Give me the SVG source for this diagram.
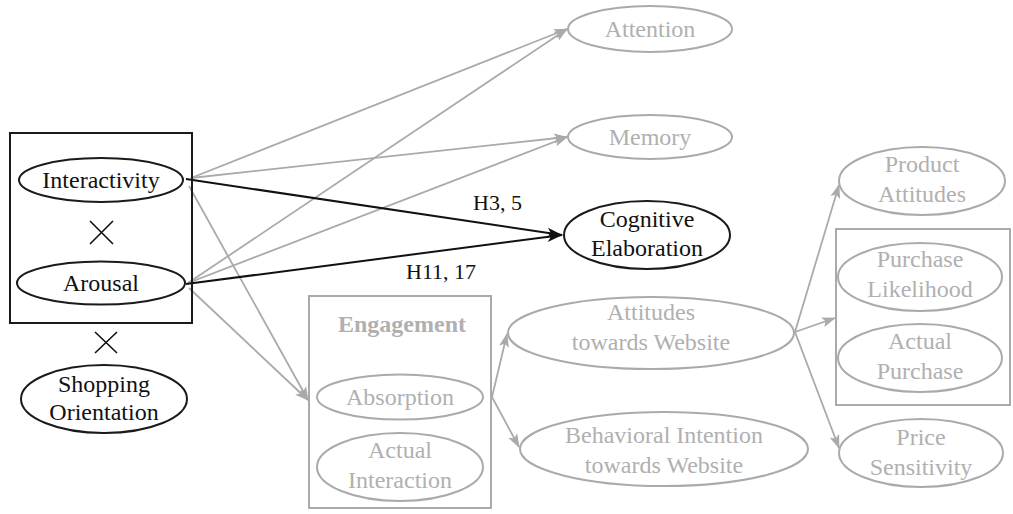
<svg xmlns="http://www.w3.org/2000/svg" width="1013" height="514" viewBox="0 0 1013 514" font-family="Liberation Serif, serif">
<defs>
<style>
text{font-size:24px;text-anchor:middle}
.k{fill:#111}
.g{fill:#b0b0b0}
.ek{fill:none;stroke:#1a1a1a;stroke-width:2}
.eg{fill:none;stroke:#aaaaaa;stroke-width:2}
.ck{stroke:#111;stroke-width:2;fill:none}
.cg{stroke:#aaaaaa;stroke-width:1.8;fill:none}
.lbl{font-size:22px;text-anchor:start}
</style>
<marker id="ag" markerUnits="userSpaceOnUse" markerWidth="14" markerHeight="12" refX="13" refY="5" orient="auto" viewBox="0 0 14 10">
<path d="M0,0 L14,5 L0,10 L3,5 z" fill="#aaaaaa"/>
</marker>
<marker id="ak" markerUnits="userSpaceOnUse" markerWidth="16" markerHeight="12" refX="15" refY="5" orient="auto" viewBox="0 0 16 10">
<path d="M0,0 L16,5 L0,10 L4,5 z" fill="#111"/>
</marker>
</defs>
<rect width="1013" height="514" fill="#fff"/>

<g id="connectors">
<line class="cg" x1="191" y1="178" x2="567" y2="29" marker-end="url(#ag)"/>
<line class="cg" x1="191" y1="178" x2="567" y2="137" marker-end="url(#ag)"/>
<line class="cg" x1="189" y1="186" x2="308" y2="400" marker-end="url(#ag)"/>
<line class="cg" x1="188" y1="283" x2="567" y2="29" marker-end="url(#ag)"/>
<line class="cg" x1="188" y1="283" x2="567" y2="137" marker-end="url(#ag)"/>
<line class="cg" x1="189" y1="288" x2="308" y2="400" marker-end="url(#ag)"/>
<line class="ck" x1="186" y1="179" x2="562" y2="235" marker-end="url(#ak)"/>
<line class="ck" x1="186" y1="284" x2="562" y2="235" marker-end="url(#ak)"/>
<line class="cg" x1="492" y1="397" x2="507" y2="334" marker-end="url(#ag)"/>
<line class="cg" x1="492" y1="397" x2="519" y2="447" marker-end="url(#ag)"/>
<line class="cg" x1="795" y1="332" x2="839" y2="185" marker-end="url(#ag)"/>
<line class="cg" x1="795" y1="332" x2="835" y2="318" marker-end="url(#ag)"/>
<line class="cg" x1="795" y1="332" x2="839" y2="448" marker-end="url(#ag)"/>
<text class="k lbl" x="473" y="210">H3, 5</text>
<text class="k lbl" x="406" y="279">H11, 17</text>
</g>

<g id="interaction-box">
<rect x="10" y="133" width="182" height="190" fill="none" stroke="#1a1a1a" stroke-width="2"/>
<path d="M90,221 L113,244 M113,221 L90,244" stroke="#111" stroke-width="1.6"/>
</g>
<g id="interactivity">
<ellipse class="ek" cx="101" cy="180" rx="82" ry="22"/>
<text class="k" x="101" y="188">Interactivity</text>
</g>
<g id="arousal">
<ellipse class="ek" cx="101" cy="283" rx="84" ry="21.5"/>
<text class="k" x="101" y="291">Arousal</text>
</g>
<g id="times2">
<path d="M95,332 L117,353 M117,332 L95,353" stroke="#111" stroke-width="1.6"/>
</g>
<g id="shopping">
<ellipse class="ek" cx="104" cy="399" rx="83" ry="34"/>
<text class="k" x="104" y="392">Shopping</text>
<text class="k" x="104" y="420">Orientation</text>
</g>

<g id="attention">
<ellipse class="eg" cx="650" cy="29" rx="82" ry="23"/>
<text class="g" x="650" y="37">Attention</text>
</g>
<g id="memory">
<ellipse class="eg" cx="650" cy="137" rx="82" ry="22"/>
<text class="g" x="650" y="145">Memory</text>
</g>
<g id="cognitive">
<ellipse class="ek" cx="647" cy="235" rx="83" ry="34"/>
<text class="k" x="647" y="227">Cognitive</text>
<text class="k" x="647" y="256">Elaboration</text>
</g>

<g id="engagement">
<rect x="309" y="296" width="182" height="212" fill="none" stroke="#aaaaaa" stroke-width="2"/>
<text class="g" x="402" y="332" font-weight="bold">Engagement</text>
</g>
<g id="absorption">
<ellipse class="eg" cx="400" cy="397" rx="83" ry="22.5"/>
<text class="g" x="400" y="405">Absorption</text>
</g>
<g id="actual-interaction">
<ellipse class="eg" cx="400" cy="467" rx="83" ry="34"/>
<text class="g" x="400" y="458">Actual</text>
<text class="g" x="400" y="488">Interaction</text>
</g>

<g id="attitudes-website">
<ellipse class="eg" cx="651" cy="333" rx="143" ry="36"/>
<text class="g" x="651" y="320">Attitudes</text>
<text class="g" x="651" y="350">towards Website</text>
</g>
<g id="behavioral-intention">
<ellipse class="eg" cx="664" cy="449" rx="144" ry="37"/>
<text class="g" x="664" y="443">Behavioral Intention</text>
<text class="g" x="664" y="473">towards Website</text>
</g>

<g id="product-attitudes">
<ellipse class="eg" cx="922" cy="181" rx="83" ry="34"/>
<text class="g" x="922" y="172">Product</text>
<text class="g" x="922" y="202">Attitudes</text>
</g>
<g id="purchase-box">
<rect x="836" y="229" width="174" height="176" fill="none" stroke="#aaaaaa" stroke-width="2"/>
</g>
<g id="purchase-likelihood">
<ellipse class="eg" cx="920" cy="277" rx="82" ry="34"/>
<text class="g" x="920" y="267">Purchase</text>
<text class="g" x="920" y="297">Likelihood</text>
</g>
<g id="actual-purchase">
<ellipse class="eg" cx="920" cy="358" rx="82" ry="34"/>
<text class="g" x="920" y="349">Actual</text>
<text class="g" x="920" y="379">Purchase</text>
</g>
<g id="price-sensitivity">
<ellipse class="eg" cx="921" cy="453" rx="82" ry="34"/>
<text class="g" x="921" y="445">Price</text>
<text class="g" x="921" y="475">Sensitivity</text>
</g>
</svg>
